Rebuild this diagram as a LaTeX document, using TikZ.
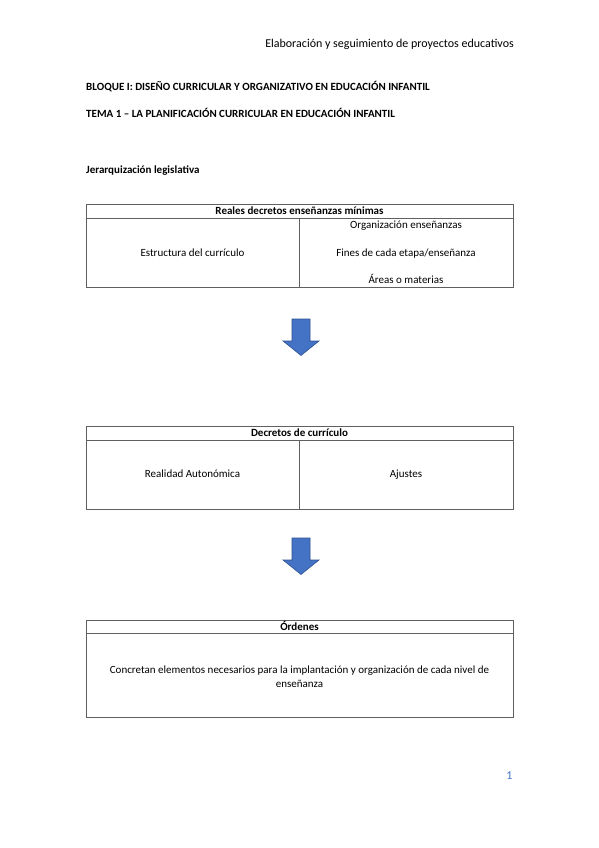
\documentclass[tikz,border=0pt]{standalone}
\usepackage{fontspec}
\setmainfont{Carlito}
\definecolor{arrowblue}{HTML}{4472C4}
\definecolor{arrowedge}{HTML}{2F528F}
\definecolor{tline}{HTML}{606060}
\begin{document}
\begin{tikzpicture}[x=1pt,y=-1pt,
  tbl/.style={draw=tline,line width=0.7pt},
  txt/.style={inner sep=0pt,yshift=-1.2pt,text height=7.5pt,text depth=2.5pt,font=\fontsize{11}{14}\selectfont},
  btxt/.style={inner sep=0pt,yshift=-1.2pt,text height=7.5pt,text depth=2.5pt,font=\fontsize{11}{14}\selectfont\bfseries},
  downarrow/.style={fill=arrowblue,draw=arrowedge,line width=0.6pt}]
\useasboundingbox (0,0) rectangle (599,848);
\fill[white] (0,0) rectangle (599,848);
% header
\node[anchor=east,inner sep=0pt,yshift=-1pt,text height=8pt,text depth=2.5pt,font=\fontsize{12}{14}\selectfont] (hdr) at (514,44) {Elaboración y seguimiento de proyectos educativos};
\node[btxt,anchor=west] (bloque) at (86,87) {BLOQUE I: DISEÑO CURRICULAR Y ORGANIZATIVO EN EDUCACIÓN INFANTIL};
\node[btxt,anchor=west] (tema) at (86,114) {TEMA 1 – LA PLANIFICACIÓN CURRICULAR EN EDUCACIÓN INFANTIL};
\node[btxt,anchor=west] (jer) at (86,170) {Jerarquización legislativa};
% table 1
\draw[tbl] (86,204) rectangle (513,287);
\draw[tbl] (86,218) -- (513,218);
\draw[tbl] (299,218) -- (299,287);
\node[btxt] (t1h) at (299.5,211) {Reales decretos enseñanzas mínimas};
\node[txt] (t1a) at (192.5,253) {Estructura del currículo};
\node[txt] (t1b) at (406,225) {Organización enseñanzas};
\node[txt] (t1c) at (406,253) {Fines de cada etapa/enseñanza};
\node[txt] (t1d) at (406,280) {Áreas o materias};
% arrow 1
\draw[downarrow] (292,319) -- (310,319) -- (310,341) -- (319,341) -- (301,355.5) -- (283,341) -- (292,341) -- cycle;
% table 2
\draw[tbl] (86,426) rectangle (513,509);
\draw[tbl] (86,440) -- (513,440);
\draw[tbl] (299,440) -- (299,509);
\node[btxt] (t2h) at (299.5,433) {Decretos de currículo};
\node[txt] (t2a) at (192.5,474) {Realidad Autonómica};
\node[txt] (t2b) at (406,474) {Ajustes};
% arrow 2
\draw[downarrow] (292,538) -- (310,538) -- (310,560) -- (319,560) -- (301,574.5) -- (283,560) -- (292,560) -- cycle;
% table 3
\draw[tbl] (86,620) rectangle (513,717);
\draw[tbl] (86,633) -- (513,633);
\node[btxt] (t3h) at (299.5,627) {Órdenes};
\node[inner sep=0pt,yshift=-1pt,font=\fontsize{11}{14}\selectfont,align=center] (t3a) at (299.5,676) {Concretan elementos necesarios para la implantación y organización de cada nivel de\\ enseñanza};
% page number
\node[inner sep=0pt,text=arrowblue,font=\fontsize{12}{14}\selectfont] (pg) at (509.5,776) {1};
\end{tikzpicture}
\end{document}
